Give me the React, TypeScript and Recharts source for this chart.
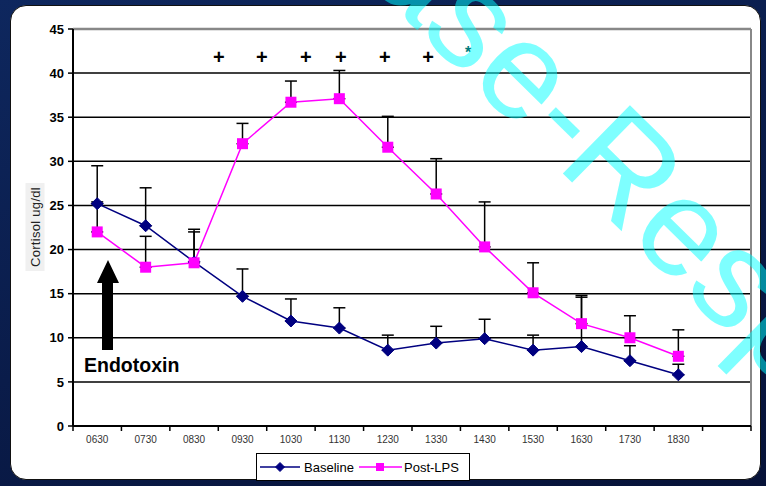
import React from 'react';
import { LineChart, Line, XAxis, YAxis, CartesianGrid, ErrorBar, ReferenceLine, ReferenceDot } from 'recharts';

const categories = ['0630', '0730', '0830', '0930', '1030', '1130', '1230', '1330', '1430', '1530', '1630', '1730', '1830'];
const baseline = [25.2, 22.7, 18.6, 14.7, 11.9, 11.1, 8.6, 9.4, 9.9, 8.6, 9.0, 7.4, 5.8];
const baselineUpper = [29.5, 27.0, 22.3, 17.8, 14.4, 13.4, 10.3, 11.3, 12.1, 10.3, 14.6, 9.1, 7.0];
const postLps = [22.0, 18.0, 18.5, 32.0, 36.7, 37.1, 31.6, 26.3, 20.3, 15.1, 11.6, 10.0, 7.9];
const postLpsUpper = [25.4, 21.5, 22.0, 34.3, 39.1, 40.3, 35.1, 30.3, 25.4, 18.5, 14.8, 12.5, 10.9];
const yTicks = [0, 5, 10, 15, 20, 25, 30, 35, 40, 45];
// significance marks, in axis units (x = slot index, y = cortisol)
const plusMarks = [3.01, 3.9, 4.81, 5.53, 6.44, 7.33];
const starMarks = [8.16];

const SLOTS = 14;
const CHART_W = 766;
const CHART_H = 486;
const MARGIN = { top: 29, right: 15, bottom: 30, left: 33 };
const Y_AXIS_W = 40;
const HALF_STEP = (CHART_W - MARGIN.left - MARGIN.right - Y_AXIS_W) / SLOTS / 2;

const NAVY = '#000080';
const PINK = '#ff00ff';
const FONT = '"Liberation Sans", Arial, sans-serif';

const data = categories.map((name, i) => ({
    x: i + 0.5,
    name,
    baseline: baseline[i],
    baselineErr: [0, +(baselineUpper[i] - baseline[i]).toFixed(2)],
    postLps: postLps[i],
    postLpsErr: [0, +(postLpsUpper[i] - postLps[i]).toFixed(2)],
}));

const xTicks = Array.from({ length: SLOTS + 1 }, (_, i) => i);

const Diamond = ({ cx, cy, s = 6 }: any) => (
    <polygon points={`${cx},${cy - s} ${cx + s},${cy} ${cx},${cy + s} ${cx - s},${cy}`} fill={NAVY} stroke={NAVY} />
);

const Square = ({ cx, cy, s = 5.5 }: any) => (
    <rect x={cx - s} y={cy - s} width={s * 2} height={s * 2} fill={PINK} />
);

const XTick = ({ x, y, payload }: any) => {
    const label = categories[payload.value];
    if (!label) return null;
    return (
        <text x={x + HALF_STEP} y={y} dy={10} textAnchor="middle" fontSize={10} fill="#333" fontFamily={FONT}>
            {label}
        </text>
    );
};

export default function App() {
    return (
        <div style={{ position: 'fixed', left: 0, top: 0, width: CHART_W, height: CHART_H, overflow: 'hidden', background: 'linear-gradient(160deg, #0e275e 0%, #0a1c4a 50%, #061238 100%)' }}>
            <div style={{ position: 'absolute', left: 10, top: 5, width: 751, height: 475, background: '#fff', borderRadius: 16, border: '1px solid #111', boxSizing: 'border-box' }} />
            <div style={{ position: 'absolute', left: 0, top: 0 }}>
                <LineChart width={CHART_W} height={CHART_H} data={data} margin={MARGIN} style={{ fontFamily: FONT }}>
                    <CartesianGrid vertical={false} stroke="#000" strokeWidth={1.5} />
                    <XAxis
                        dataKey="x"
                        type="number"
                        domain={[0, SLOTS]}
                        ticks={xTicks}
                        interval={0}
                        height={30}
                        tick={<XTick />}
                        tickSize={5}
                        tickLine={{ stroke: '#000', strokeWidth: 1.5 }}
                        axisLine={{ stroke: '#000', strokeWidth: 2 }}
                    />
                    <YAxis
                        domain={[0, 45]}
                        ticks={yTicks}
                        width={Y_AXIS_W}
                        tickSize={5}
                        tickMargin={4}
                        tick={{ fontSize: 13, fontWeight: 'bold', fill: '#000', fontFamily: FONT }}
                        tickLine={{ stroke: '#000', strokeWidth: 1.5 }}
                        axisLine={{ stroke: '#000', strokeWidth: 2 }}
                    />
                    <ReferenceLine y={45} stroke="#888" strokeWidth={2.5} />
                    <ReferenceLine x={SLOTS} stroke="#888" strokeWidth={2} />
                    <Line
                        dataKey="baseline"
                        stroke={NAVY}
                        strokeWidth={1.5}
                        isAnimationActive={false}
                        dot={(p: any) => <Diamond key={`b-${p.index}`} cx={p.cx} cy={p.cy} />}
                        activeDot={false}
                    >
                        <ErrorBar dataKey="baselineErr" direction="y" width={6} stroke="#000" strokeWidth={1.5} />
                    </Line>
                    <Line
                        dataKey="postLps"
                        stroke={PINK}
                        strokeWidth={1.5}
                        isAnimationActive={false}
                        dot={(p: any) => <Square key={`p-${p.index}`} cx={p.cx} cy={p.cy} />}
                        activeDot={false}
                    >
                        <ErrorBar dataKey="postLpsErr" direction="y" width={6} stroke="#000" strokeWidth={1.5} />
                    </Line>
                    {plusMarks.map((x, i) => (
                        <ReferenceDot
                            key={`plus-${i}`}
                            x={x}
                            y={41.8}
                            r={0}
                            shape={(p: any) => (
                                <text x={p.cx} y={p.cy} dy={7} textAnchor="middle" fontSize={20} fontWeight="bold" fill="#000" fontFamily={FONT}>+</text>
                            )}
                        />
                    ))}
                    {starMarks.map((x, i) => (
                        <ReferenceDot
                            key={`star-${i}`}
                            x={x}
                            y={42.6}
                            r={0}
                            shape={(p: any) => (
                                <text x={p.cx} y={p.cy} dy={8} textAnchor="middle" fontSize={16} fontWeight="bold" fill="#007b7b" fontFamily={FONT}>*</text>
                            )}
                        />
                    ))}
                </LineChart>
            </div>

            {/* y axis title */}
            <div style={{ position: 'absolute', left: 35, top: 227, transform: 'translate(-50%, -50%) rotate(-90deg)', background: '#f0f0f0', padding: '2px 4px', fontFamily: FONT, fontSize: 13, color: '#222', whiteSpace: 'nowrap', letterSpacing: 0.3 }}>
                Cortisol ug/dl
            </div>

            {/* endotoxin arrow */}
            <svg width={CHART_W} height={CHART_H} style={{ position: 'absolute', left: 0, top: 0, pointerEvents: 'none' }}>
                <polygon points="102,350 113,350 113,283 119,283 108,260 97,283 102,283" fill="#000" />
                <text x={84} y={372} fontSize={19.5} fontWeight="bold" fill="#000" fontFamily={FONT}>Endotoxin</text>
            </svg>

            {/* legend */}
            <div style={{ position: 'absolute', left: 256, top: 453, width: 214, height: 28, border: '1.5px solid #000', boxSizing: 'border-box', background: '#fff' }}>
                <svg width={211} height={25} style={{ position: 'absolute', left: 0, top: 0 }}>
                    <line x1={3} y1={13} x2={43} y2={13} stroke={NAVY} strokeWidth={1.5} />
                    <Diamond cx={23} cy={13} s={4.5} />
                    <text x={47} y={17.5} fontSize={13} fill="#000" fontFamily={FONT}>Baseline</text>
                    <line x1={102} y1={13} x2={145} y2={13} stroke={PINK} strokeWidth={1.5} />
                    <Square cx={123} cy={13} s={4} />
                    <text x={147} y={17.5} fontSize={13} fill="#000" fontFamily={FONT}>Post-LPS</text>
                </svg>
            </div>

            {/* watermark */}
            <svg width={CHART_W} height={CHART_H} style={{ position: 'absolute', left: 0, top: 0, pointerEvents: 'none' }}>
                <text x={362} y={-24} transform="rotate(44.5 362 -24)" fontSize={139} fill="#00ffff" opacity={0.5} fontFamily={FONT}>ase-Resp</text>
            </svg>
        </div>
    );
}
